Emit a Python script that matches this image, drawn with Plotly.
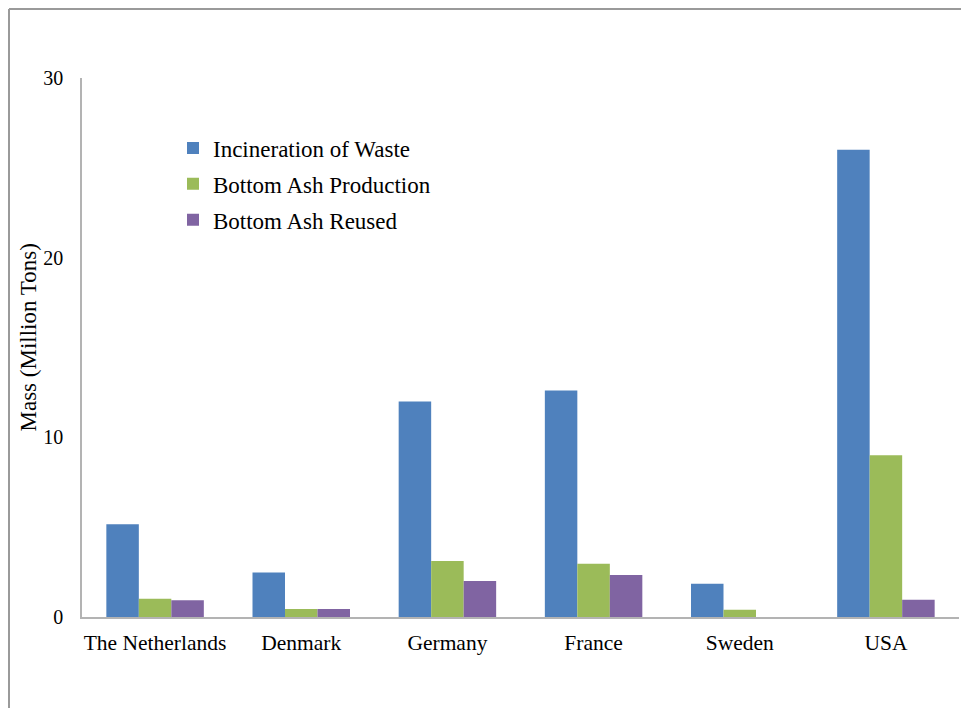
import plotly.graph_objects as go

countries = ["The Netherlands", "Denmark", "Germany", "France", "Sweden", "USA"]
incineration = [5.16, 2.47, 12.0, 12.6, 1.85, 26.0]
ash_production = [1.02, 0.45, 3.12, 2.97, 0.41, 9.0]
ash_reused = [0.93, 0.45, 2.0, 2.34, 0.0, 0.96]

series = [
    ("Incineration of Waste", incineration, "#4F81BD"),
    ("Bottom Ash Production", ash_production, "#9BBB59"),
    ("Bottom Ash Reused", ash_reused, "#8064A2"),
]

FONT = "Liberation Serif, Times New Roman, serif"

fig = go.Figure()
for i, (name, vals, color) in enumerate(series):
    fig.add_trace(go.Bar(
        x=countries, y=vals, name=name,
        marker=dict(color=color, line=dict(width=0)),
        legendgroup=f"g{i}",
    ))

# page has an 8px body offset; figure coords = screen coords - 8
OFF = 8
W, H = 969 - OFF, 708 - OFF
L, T, R, B = 82 - OFF, 78 - OFF, 10, 91
pw = W - L - R
ph = H - T - B

def sx(px):  # screen px -> paper x
    return (px - OFF - L) / pw

def sy(py):  # screen px -> paper y
    return (H - B - (py - OFF)) / ph

fig.update_layout(
    width=W, height=H,
    margin=dict(l=L, r=R, t=T, b=B, pad=0),
    paper_bgcolor="white", plot_bgcolor="white",
    font=dict(family=FONT, size=21, color="black"),
    barmode="group", bargap=0.333, bargroupgap=0,
    showlegend=True,
    legend=dict(
        x=sx(173), y=sy(126.5),
        xanchor="left", yanchor="top",
        bgcolor="rgba(0,0,0,0)",
        font=dict(family=FONT, size=23, color="black"),
        traceorder="grouped", tracegroupgap=3,
    ),
    xaxis=dict(
        showline=True, linecolor="#b3b3b3", linewidth=1.5,
        ticks="", showgrid=False, zeroline=False,
        tickfont=dict(family=FONT, size=21.5, color="black"),
        ticklabelstandoff=5,
    ),
    yaxis=dict(
        range=[0, 30], dtick=10, tick0=0,
        showline=True, linecolor="#b3b3b3", linewidth=1.5,
        ticks="", showgrid=False, zeroline=False,
        tickfont=dict(family=FONT, size=20, color="black"),
        ticklabelstandoff=13,
    ),
    annotations=[
        dict(text="Mass (Million Tons)", xref="paper", yref="paper",
             x=sx(28), y=sy(337.5), xanchor="center", yanchor="middle",
             textangle=-90, showarrow=False,
             font=dict(family=FONT, size=23, color="black")),
    ],
    shapes=[
        dict(type="line", xref="paper", yref="paper",
             x0=sx(OFF + 1), x1=sx(968),
             y0=sy(OFF + 1), y1=sy(OFF + 1),
             line=dict(color="#9a9a9a", width=2)),
        dict(type="line", xref="paper", yref="paper",
             x0=sx(OFF + 1), x1=sx(OFF + 1),
             y0=sy(OFF + 1), y1=sy(708),
             line=dict(color="#9a9a9a", width=2)),
    ],
)

fig.write_html("out.html")
